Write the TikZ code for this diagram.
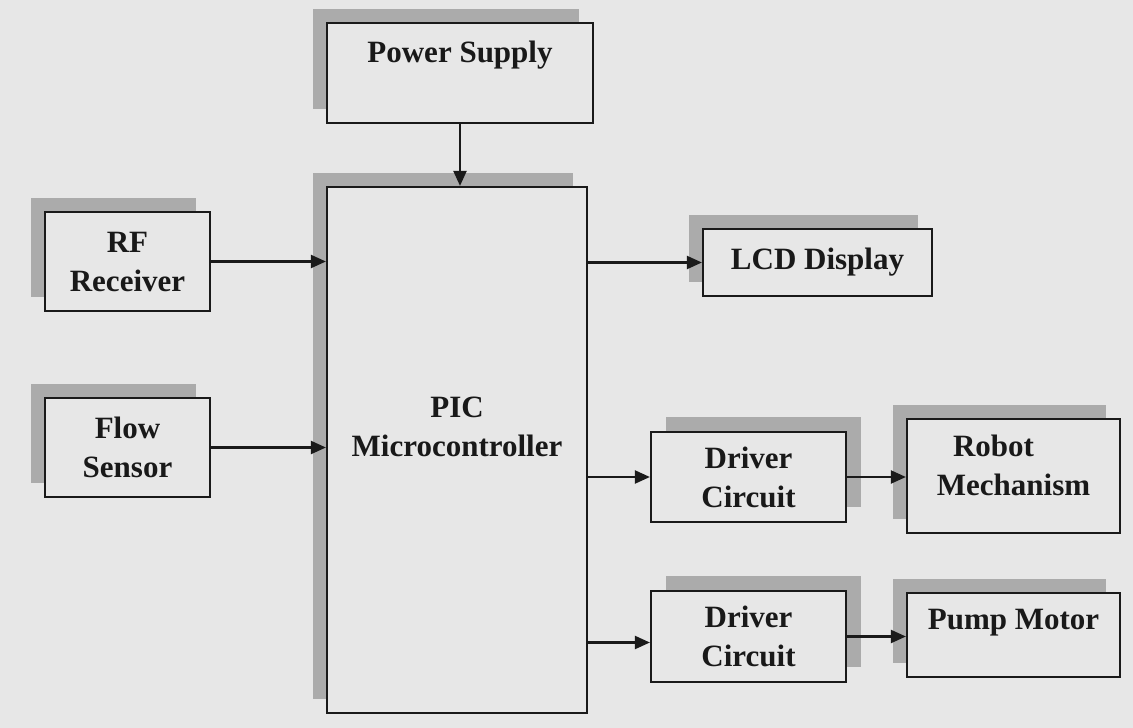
\documentclass[tikz,border=0pt]{standalone}
\usepackage{fontspec}
\setmainfont{Liberation Serif}
\usetikzlibrary{arrows.meta, shadows}
\definecolor{paper}{HTML}{E7E7E7}
\definecolor{shade}{HTML}{ABABAB}
\definecolor{ink}{HTML}{1A1A1A}

\begin{document}
\begin{tikzpicture}[x=1pt, y=-1pt, ->, >={Triangle[length=15pt, width=13pt]},
    line width=2.2pt, color=ink,
    txt/.style={font=\bfseries\fontsize{31}{39}\selectfont, align=center, text=black!90},
    block/.style={txt, draw=ink, fill=paper, inner sep=0pt, line width=2.2pt},
    shadow left/.style={drop shadow={shadow xshift=-14pt, shadow yshift=14pt,
      fill=shade, opacity=1}},
    shadow right/.style={drop shadow={shadow xshift=15pt, shadow yshift=15pt,
      fill=shade, opacity=1}}]
    \fill[paper] (0,0) rectangle (1133,728);

    \node[block, shadow left, minimum width=266pt, minimum height=100pt,
      label={[txt, yshift=18pt]center:Power Supply}] (pwr) at (460,73) {};
    \node[block, shadow left, minimum width=260pt, minimum height=526pt,
      label={[txt, yshift=23pt]center:PIC\\Microcontroller}] (pic) at (457,450) {};
    \node[block, shadow left, minimum width=165pt, minimum height=99pt]
      (rf) at (127.5,261.5) {RF\\Receiver};
    \node[block, shadow left, minimum width=165pt, minimum height=99pt]
      (flow) at (127.5,447.5) {Flow\\Sensor};
    \node[block, shadow left, minimum width=229pt, minimum height=67pt]
      (lcd) at (817.5,262.5) {LCD Display};
    \node[block, shadow right, minimum width=195pt, minimum height=90pt]
      (drv1) at (748.5,477) {Driver\\Circuit};
    \node[block, shadow right, minimum width=195pt, minimum height=91pt]
      (drv2) at (748.5,636.5) {Driver\\Circuit};
    \node[block, shadow left, minimum width=213pt, minimum height=114pt,
      label={[txt, yshift=11pt]center:Robot\hspace*{40pt}\\Mechanism}] (rob) at (1013.5,476) {};
    \node[block, shadow left, minimum width=213pt, minimum height=84pt,
      label={[txt, yshift=12pt]center:Pump Motor}] (pump) at (1013.5,635) {};

    \coordinate (drv2-in) at ([yshift=-6pt]drv2.west);

    \path (pwr.south) edge (pwr.south |- pic.north)
          (rf.east) edge (rf.east -| pic.west)
          (flow.east) edge (flow.east -| pic.west)
          (pic.east |- lcd.west) edge (lcd.west)
          (pic.east |- drv1.west) edge (drv1.west)
          (pic.east |- drv2-in) edge (drv2-in)
          (drv1.east) edge (drv1.east -| rob.west)
          (drv2.east) edge (drv2.east -| pump.west);
  \end{tikzpicture}
\end{document}
